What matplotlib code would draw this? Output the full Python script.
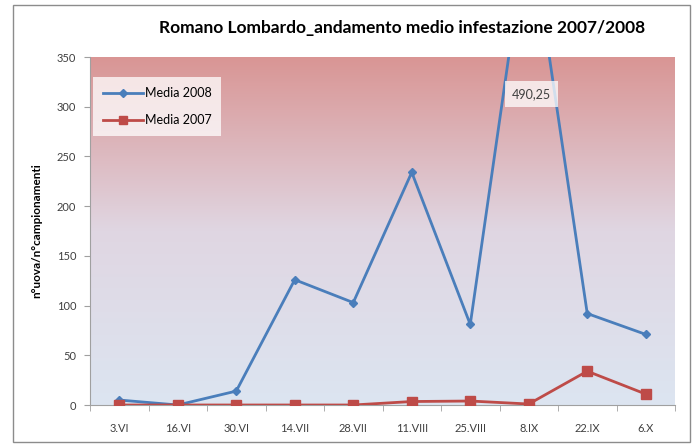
import numpy as np
import matplotlib.pyplot as plt
from matplotlib.colors import LinearSegmentedColormap
from matplotlib.patches import Rectangle

plt.rcParams['font.family'] = ['Lato', 'DejaVu Sans']

dates = ['3.VI', '16.VI', '30.VI', '14.VII', '28.VII', '11.VIII', '25.VIII', '8.IX', '22.IX', '6.X']
media_2008 = [5, 0, 14, 126, 103, 234, 81, 490.25, 92, 71]
media_2007 = [0, 0, 0, 0, 0, 3.5, 4, 1, 34, 11]
yticks = [0, 50, 100, 150, 200, 250, 300, 350]

W, H = 697, 444
fig = plt.figure(figsize=(W / 100, H / 100), dpi=100)
fig.patch.set_facecolor('white')

# outer chart border
fig.add_artist(Rectangle((13 / W, 1 - 442 / H), 677 / W, 437 / H, transform=fig.transFigure,
                         fill=False, edgecolor='#8c8c8c', linewidth=1.0))

ax = fig.add_axes([90 / W, 1 - 405 / H, 585 / W, 348 / H])

# gradient background (red top -> pale blue bottom)
cmap = LinearSegmentedColormap.from_list('bg', ['#dce5f1', '#e0d6e2', '#d99594'])
grad = np.linspace(0, 1, 256).reshape(-1, 1)
ax.imshow(grad, cmap=cmap, aspect='auto', origin='lower', extent=[0, 1, 0, 1],
          transform=ax.transAxes, zorder=0)

x = np.arange(len(dates))
ax.plot(x, media_2008, color='#4a7ebb', lw=2, marker='D', ms=4.5, label='Media 2008', zorder=3)
ax.plot(x, media_2007, color='#be4b48', lw=2, marker='s', ms=7, label='Media 2007', zorder=3)

ax.set_xlim(-0.5, len(dates) - 0.5)
ax.set_ylim(0, 350)
ax.set_yticks(yticks)
ax.set_xticks(x)
ax.set_xticklabels(dates)
ax.set_xticks(np.arange(-0.5, len(dates)), minor=True)
ax.tick_params(axis='x', which='major', length=0, pad=13, labelsize=8, labelcolor='#404040')
ax.tick_params(axis='x', which='minor', length=4, color='#a0a0a0', direction='out')
ax.tick_params(axis='y', length=4, color='#a0a0a0', labelsize=8, labelcolor='#404040', pad=6)

for s in ['top', 'right']:
    ax.spines[s].set_visible(False)
for s in ['left', 'bottom']:
    ax.spines[s].set_color('#a0a0a0')

ax.set_ylabel('n°uova/n°campionamenti', fontsize=8.5, fontweight='bold', labelpad=10)

ax.text(7.05, 313, '490,25', ha='center', va='center', fontsize=9, color='#404040',
        bbox=dict(boxstyle='square,pad=0.55', facecolor='white', alpha=0.75, edgecolor='none'), zorder=4)

leg = ax.legend(loc='upper left', bbox_to_anchor=(-0.005, 0.96), fontsize=9, frameon=True,
                fancybox=False, borderpad=0.8, labelspacing=1.2, handlelength=3.2,
                handletextpad=0.1, markerscale=0.85)
leg.get_frame().set_facecolor('white')
leg.get_frame().set_alpha(0.75)
leg.get_frame().set_edgecolor('none')

fig.text(402 / W, 1 - 28 / H, 'Romano Lombardo_andamento medio infestazione 2007/2008',
         ha='center', va='center', fontsize=12.5, fontweight='bold')

fig.savefig('out.png', dpi=100)
